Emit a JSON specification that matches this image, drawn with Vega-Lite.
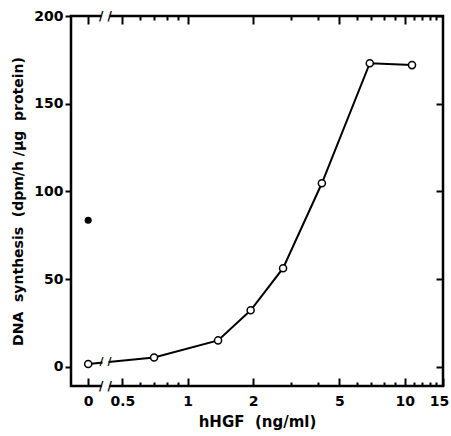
{
  "$schema": "https://vega.github.io/schema/vega-lite/v6.json",
  "width": 372,
  "height": 370,
  "autosize": "none",
  "padding": {"left": 71, "top": 16, "right": 8, "bottom": 50},
  "background": "white",
  "config": {
    "view": {"stroke": "black", "strokeWidth": 2.5},
    "font": "DejaVu Sans",
    "axis": {
      "domain": false,
      "grid": false,
      "labelFont": "DejaVu Sans",
      "labelFontWeight": "bold",
      "labelFontSize": 14,
      "labelColor": "black",
      "tickColor": "black",
      "tickWidth": 2,
      "titleFont": "DejaVu Sans",
      "titleFontWeight": "bold",
      "titleFontSize": 14,
      "titleColor": "black"
    }
  },
  "datasets": {
    "hgf": [
      {"dose": 0, "synthesis": 1.5},
      {"dose": 0.7, "synthesis": 5.3},
      {"dose": 1.38, "synthesis": 15.0},
      {"dose": 1.95, "synthesis": 32.2},
      {"dose": 2.75, "synthesis": 56.2},
      {"dose": 4.15, "synthesis": 104.6},
      {"dose": 6.9, "synthesis": 173.1},
      {"dose": 10.8, "synthesis": 172.0}
    ],
    "control": [
      {"dose": 0, "synthesis": 83.5}
    ]
  },
  "resolve": {"axis": {"x": "independent", "y": "independent"}},
  "layer": [
    {
      "data": {"name": "hgf"},
      "transform": [{"calculate": "datum.dose === 0 ? 0.348 : datum.dose", "as": "xpos"}],
      "mark": {"type": "line", "color": "black", "strokeWidth": 2},
      "encoding": {
        "x": {
          "field": "xpos", "type": "quantitative",
          "scale": {"type": "log", "domain": [0.29, 15], "nice": false},
          "axis": {
            "orient": "bottom",
            "values": [0.348, 0.5, 1, 2, 5, 10, 15],
            "labelExpr": "datum.value < 0.4 ? '0' : datum.label",
            "format": "~g",
            "tickSize": -8,
            "labelPadding": 16,
            "labelFlush": false,
            "labelOverlap": false,
            "labelOffset": {"condition": {"test": "datum.value >= 15", "value": -4}, "value": 0},
            "title": "hHGF\u00a0\u00a0(ng/ml)",
            "titleFontSize": 15,
            "titlePadding": 6
          }
        },
        "y": {
          "field": "synthesis", "type": "quantitative",
          "scale": {"domain": [-11, 200], "nice": false, "zero": false},
          "axis": {
            "orient": "left",
            "values": [0, 50, 100, 150, 200],
            "tickSize": 6,
            "labelPadding": 2,
            "title": "DNA\u00a0\u00a0synthesis\u00a0\u00a0(dpm/h\u00a0/µg\u00a0\u00a0protein)",
            "titlePadding": 8
          }
        }
      }
    },
    {
      "data": {"name": "hgf"},
      "transform": [{"calculate": "datum.dose === 0 ? 0.348 : datum.dose", "as": "xpos"}],
      "mark": {"type": "point", "shape": "circle", "filled": true, "fill": "white", "stroke": "black", "strokeWidth": 1.5, "size": 50, "opacity": 1},
      "encoding": {
        "x": {
          "field": "xpos", "type": "quantitative",
          "axis": {
            "orient": "bottom",
            "values": [0.6, 0.7, 0.8, 0.9, 3, 4, 6, 7, 8, 9, 11, 12, 13, 14],
            "labels": false,
            "tickSize": -4,
            "title": null
          }
        },
        "y": {
          "field": "synthesis", "type": "quantitative",
          "axis": {
            "orient": "right",
            "values": [0, 50, 100, 150, 200],
            "labels": false,
            "tickSize": -7,
            "title": null
          }
        }
      }
    },
    {
      "data": {"name": "control"},
      "transform": [{"calculate": "datum.dose === 0 ? 0.348 : datum.dose", "as": "xpos"}],
      "mark": {"type": "point", "shape": "circle", "filled": true, "color": "black", "size": 50, "opacity": 1},
      "encoding": {
        "x": {
          "field": "xpos", "type": "quantitative",
          "axis": {
            "orient": "top",
            "values": [0.348, 0.5, 1, 2, 5, 10],
            "labels": false,
            "tickSize": -8,
            "title": null
          }
        },
        "y": {"field": "synthesis", "type": "quantitative", "axis": null}
      }
    },
    {
      "data": {"values": [{}]},
      "mark": {"type": "rule", "color": "white", "strokeWidth": 6},
      "encoding": {
        "x": {
          "datum": 0.401, "type": "quantitative",
          "axis": {
            "orient": "top",
            "values": [0.6, 0.7, 0.8, 0.9, 3, 4, 6, 7, 8, 9, 11, 12, 13, 14],
            "labels": false,
            "tickSize": -4,
            "title": null
          }
        },
        "x2": {"datum": 0.437},
        "y": {"datum": -11, "type": "quantitative", "axis": null}
      }
    },
    {
      "data": {"values": [{}]},
      "mark": {"type": "rule", "color": "white", "strokeWidth": 6},
      "encoding": {
        "x": {"datum": 0.401, "type": "quantitative", "axis": null},
        "x2": {"datum": 0.437},
        "y": {"datum": 200, "type": "quantitative", "axis": null}
      }
    },
    {
      "data": {"values": [{}]},
      "mark": {"type": "rule", "color": "white", "strokeWidth": 4},
      "encoding": {
        "x": {"datum": 0.405, "type": "quantitative", "axis": null},
        "x2": {"datum": 0.432},
        "y": {"datum": 2.5, "type": "quantitative", "axis": null}
      }
    },
    {
      "data": {"values": [{}]},
      "mark": {"type": "text", "text": "/ /", "font": "DejaVu Sans", "fontWeight": "bold", "fontSize": 12, "color": "black", "align": "center", "baseline": "middle"},
      "encoding": {
        "x": {"datum": 0.418, "type": "quantitative", "axis": null},
        "y": {"datum": -11, "type": "quantitative", "axis": null}
      }
    },
    {
      "data": {"values": [{}]},
      "mark": {"type": "text", "text": "/ /", "font": "DejaVu Sans", "fontWeight": "bold", "fontSize": 12, "color": "black", "align": "center", "baseline": "middle"},
      "encoding": {
        "x": {"datum": 0.418, "type": "quantitative", "axis": null},
        "y": {"datum": 200, "type": "quantitative", "axis": null}
      }
    },
    {
      "data": {"values": [{}]},
      "mark": {"type": "text", "text": "/ /", "font": "DejaVu Sans", "fontWeight": "bold", "fontSize": 11, "color": "black", "align": "center", "baseline": "middle"},
      "encoding": {
        "x": {"datum": 0.418, "type": "quantitative", "axis": null},
        "y": {"datum": 2.5, "type": "quantitative", "axis": null}
      }
    }
  ]
}
